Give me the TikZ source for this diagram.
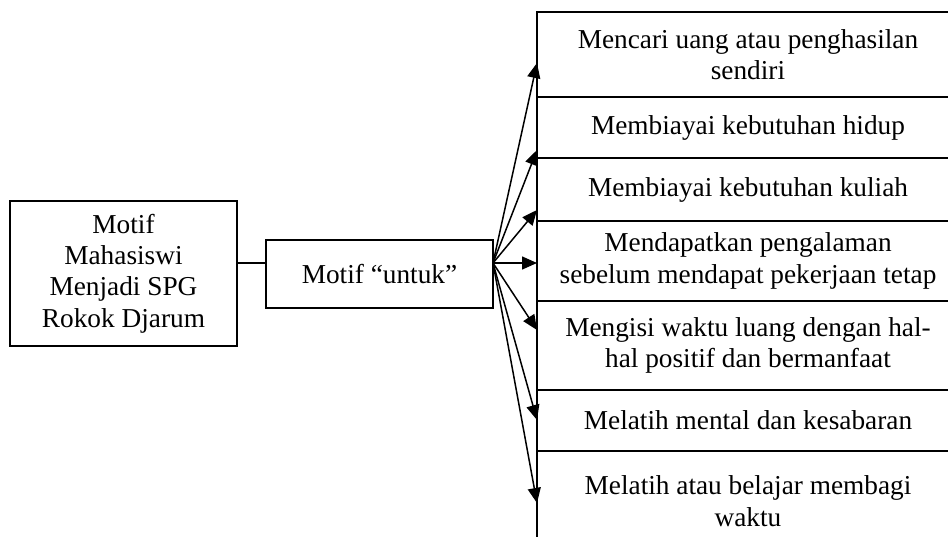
\documentclass[tikz,border=0pt]{standalone}
\usepackage{fontspec}
\setmainfont{Liberation Serif}
\usetikzlibrary{arrows.meta, positioning}

\begin{document}
\begin{tikzpicture}[x=1pt, y=1pt, line width=1.5pt,
    >={Triangle[length=15pt, width=13pt]},
    box/.style={draw, inner sep=0pt, outer sep=0pt, align=center,
      font=\fontsize{27.3}{31.4}\selectfont, minimum width=227pt},
    rbox/.style={box, minimum width=422pt}]
  \clip (0, 0) rectangle (948, -537);
  % left side
  \node[box, minimum height=145pt] (subjek) at (123.5, -273.5)
    {Motif\\Mahasiswi\\Menjadi SPG\\Rokok Djarum};
  \node[box, minimum height=68pt] (untuk) at (379.5, -274) {Motif “untuk”};
  \coordinate (hub) at ([yshift=11pt]untuk.east);
  \draw (subjek.east |- hub) -- (untuk.west |- hub);
  % list of motives
  \node[rbox, minimum height=85pt, anchor=north west] (m1) at (537, -12)
    {Mencari uang atau penghasilan\\sendiri};
  \node[rbox, minimum height=61pt, below=0pt of m1] (m2) {Membiayai kebutuhan hidup};
  \node[rbox, minimum height=63pt, below=0pt of m2] (m3) {Membiayai kebutuhan kuliah};
  \node[rbox, minimum height=80pt, below=0pt of m3] (m4)
    {Mendapatkan pengalaman\\sebelum mendapat pekerjaan tetap};
  \node[rbox, minimum height=89pt, below=0pt of m4] (m5)
    {Mengisi waktu luang dengan hal-\\hal positif dan bermanfaat};
  \node[rbox, minimum height=61pt, below=0pt of m5] (m6) {Melatih mental dan kesabaran};
  \node[rbox, minimum height=100pt, below=0pt of m6] (m7)
    {Melatih atau belajar membagi\\waktu};
  % arrows to each motive
  \foreach \i/\y in {1/63, 2/150, 3/210, 4/263, 5/330, 6/420, 7/503}
    \draw[->] (hub) -- (m\i.west |- 0,-\y);
\end{tikzpicture}
\end{document}
